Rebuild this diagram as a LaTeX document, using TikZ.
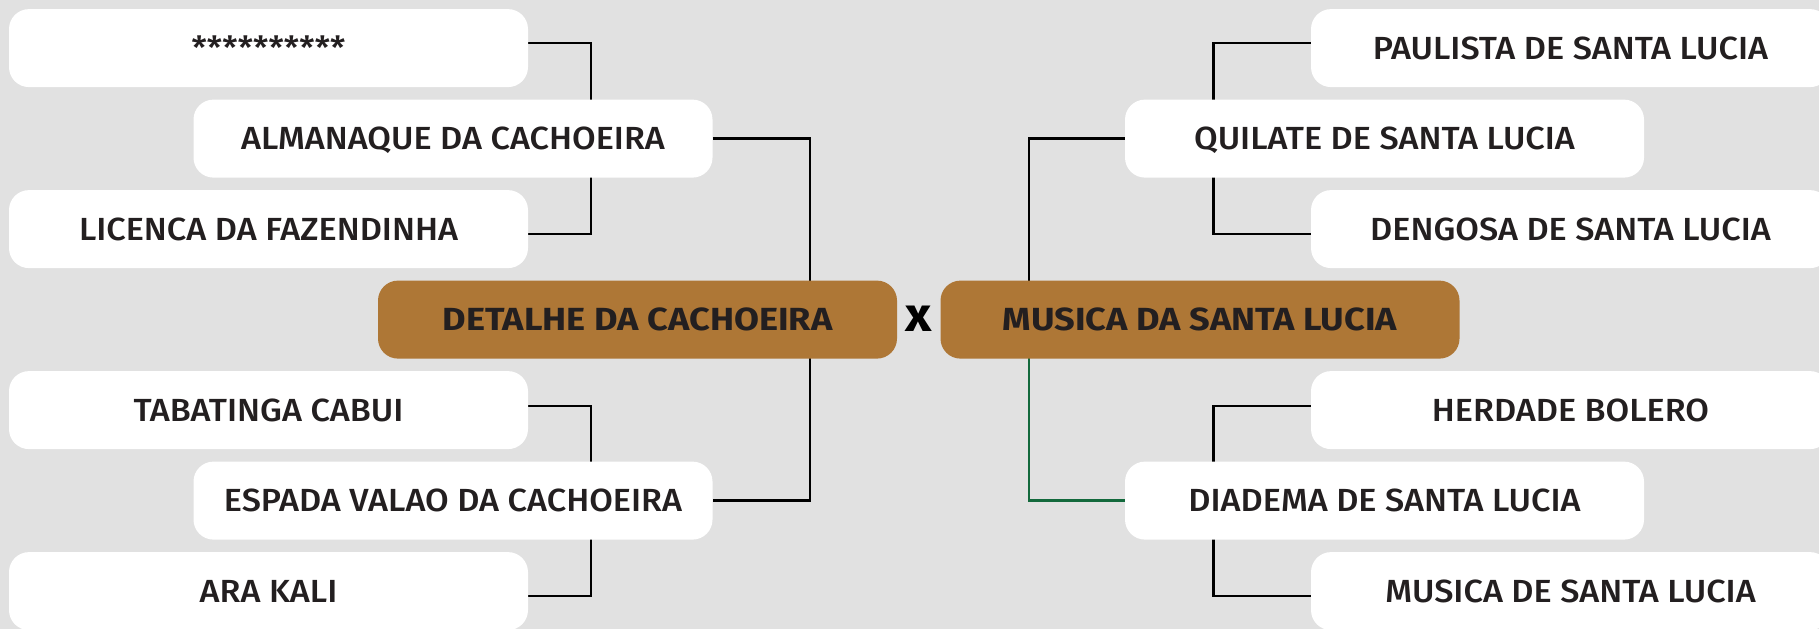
\documentclass[tikz,border=0pt]{standalone}
\usepackage{fontspec}
\setmainfont{Fira Sans}[FakeStretch=1.07, UprightFont={* Medium}, BoldFont={* Bold}]
\newfontfamily\centerfont{Fira Sans Bold}[FakeStretch=1.13]
\definecolor{bgc}{HTML}{E1E1E1}
\definecolor{brownc}{HTML}{AE7736}
\definecolor{txtc}{HTML}{231F20}
\definecolor{greenc}{HTML}{13693C}
\pgfdeclarelayer{back}
\pgfdeclarelayer{lines}
\pgfsetlayers{back,lines,main}
\begin{document}
\begin{tikzpicture}[x=1pt,y=-1pt,
  wbox/.style={fill=white, rounded corners=20pt, minimum width=519pt, minimum height=78pt,
    inner sep=0pt, text height=22pt, text depth=0pt, text=txtc,
    font=\fontsize{32}{32}\selectfont},
  cbox/.style={wbox, fill=brownc, font=\fontsize{32}{32}\centerfont},
  conn/.style={line width=2.6pt, draw=black},
  gconn/.style={line width=2.6pt, draw=greenc}]
\useasboundingbox (0,0) rectangle (1819,629);
\begin{pgfonlayer}{back}
\fill[bgc] (0,0) rectangle (1819,629);
\end{pgfonlayer}
% left side
\node[wbox] (l1) at (268.5,48.1) {**********};
\node[wbox] (l2) at (268.5,229.1) {LICENCA DA FAZENDINHA};
\node[wbox] (l3) at (268.5,410.1) {TABATINGA CABUI};
\node[wbox] (l4) at (268.5,591.1) {ARA KALI};
\node[wbox] (lm1) at (453,138.6) {ALMANAQUE DA CACHOEIRA};
\node[wbox] (lm2) at (453,500.6) {ESPADA VALAO DA CACHOEIRA};
\node[cbox] (det) at (637.5,319.6) {DETALHE DA CACHOEIRA};
% center
\node[font=\fontsize{48}{48}\selectfont\bfseries, inner sep=0pt] (vs) at (919,319) {x};
% right side
\node[cbox] (mus) at (1200,319.6) {MUSICA DA SANTA LUCIA};
\node[wbox] (rm1) at (1384.5,138.6) {QUILATE DE SANTA LUCIA};
\node[wbox] (rm2) at (1384.5,500.6) {DIADEMA DE SANTA LUCIA};
\node[wbox] (r1) at (1570.5,48.1) {PAULISTA DE SANTA LUCIA};
\node[wbox] (r2) at (1570.5,229.1) {DENGOSA DE SANTA LUCIA};
\node[wbox] (r3) at (1570.5,410.1) {HERDADE BOLERO};
\node[wbox] (r4) at (1570.5,591.1) {MUSICA DE SANTA LUCIA};
% bracket x positions
\coordinate (lx) at (591,0);
\coordinate (bx) at (810,0);
\coordinate (rx) at (1029,0);
\coordinate (sx) at (1213.5,0);
\begin{pgfonlayer}{lines}
\draw[conn] ([yshift=5pt]l1.east) -| (lx |- lm1.center) |- ([yshift=-5pt]l2.east);
\draw[conn] ([yshift=4pt]l3.east) -| (lx |- lm2.center) |- ([yshift=-5pt]l4.east);
\draw[conn] (lm1.east) -| (bx |- det.center) |- (lm2.east);
\draw[conn] ([yshift=5pt]r1.west) -| (sx |- rm1.center) |- ([yshift=-5pt]r2.west);
\draw[conn] ([yshift=4pt]r3.west) -| (sx |- rm2.center) |- ([yshift=-5pt]r4.west);
\draw[conn] (rm1.west) -| (rx |- mus.center);
\draw[gconn] (rx |- mus.center) |- (rm2.west);
\end{pgfonlayer}
\end{tikzpicture}
\end{document}
